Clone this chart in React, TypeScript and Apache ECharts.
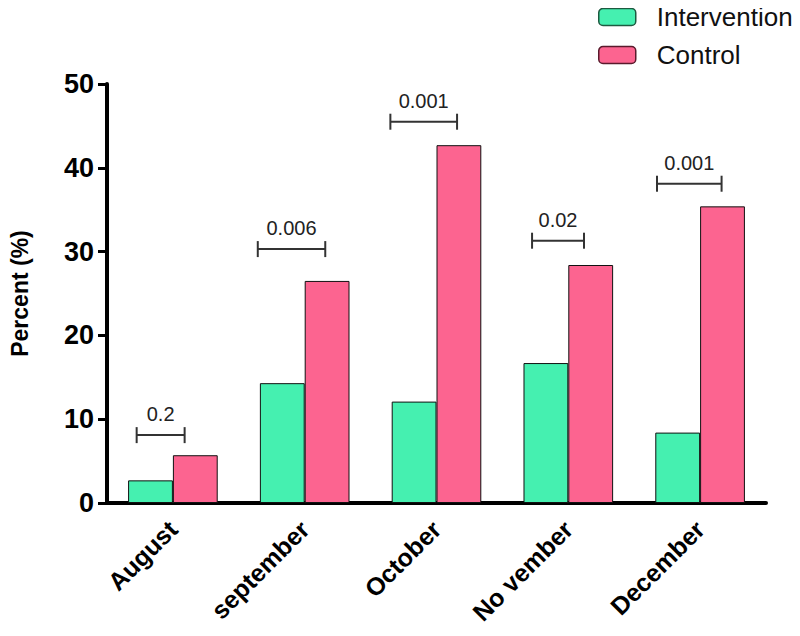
import React, { useEffect, useRef } from "react";
import * as echarts from "echarts";

const categories = ["August", "september", "October", "No vember", "December"];
const intervention = [2.7, 14.3, 12.1, 16.7, 8.4];
const control = [5.7, 26.5, 42.7, 28.4, 35.4];
const pValues = ["0.2", "0.006", "0.001", "0.02", "0.001"];
const bracketY = [8.1, 30.3, 45.5, 31.3, 38.1];
const yTicks = [0, 10, 20, 30, 40, 50];

// bracket horizontal extent, as fractions of the category band, relative to its centre
const bracketLeft = [-0.275, -0.356, -0.35, -0.275, -0.327];
const bracketRight = [0.089, 0.156, 0.156, 0.119, 0.163];

const FONT = "'Liberation Sans', Arial, sans-serif";
const GREEN = "#45F0B0";
const PINK = "#FC6490";

export default function App() {
  const ref = useRef<HTMLDivElement>(null);
  useEffect(() => {
    if (!ref.current) return;
    const chart = echarts.init(ref.current, null, { renderer: "svg" });
    const option: any = {
      animation: false,
      backgroundColor: "#ffffff",
      textStyle: { fontFamily: FONT },
      grid: { left: 90, right: 34, top: 84, bottom: 133, containLabel: false },
      legend: {
        orient: "vertical",
        left: 598,
        top: 4,
        padding: 0,
        itemWidth: 37,
        itemHeight: 17,
        itemGap: 12,
        textStyle: { fontSize: 26, lineHeight: 26, color: "#111", fontFamily: FONT, padding: [0, 0, 0, 16] },
        data: [
          { name: "Intervention", itemStyle: { borderColor: "#1d5a40", borderWidth: 1.5 } },
          { name: "Control", itemStyle: { borderColor: "#5a1a2c", borderWidth: 1.5 } },
        ],
      },
      xAxis: {
        type: "category",
        data: categories,
        axisLine: { lineStyle: { color: "#000", width: 4 } },
        axisTick: { alignWithLabel: true, length: 9, lineStyle: { color: "#000", width: 3 } },
        axisLabel: {
          rotate: 45,
          margin: 22,
          fontSize: 25,
          fontWeight: "bold",
          color: "#000",
          fontFamily: FONT,
          interval: 0,
        },
      },
      yAxis: {
        type: "value",
        min: yTicks[0],
        max: yTicks[yTicks.length - 1],
        interval: 10,
        name: "Percent (%)",
        nameLocation: "middle",
        nameGap: 76,
        nameTextStyle: { fontSize: 23, fontWeight: "bold", color: "#000", fontFamily: FONT },
        splitLine: { show: false },
        axisLine: { show: true, lineStyle: { color: "#000", width: 4 } },
        axisTick: { show: true, length: 9, lineStyle: { color: "#000", width: 3 } },
        axisLabel: { margin: 13, fontSize: 27, fontWeight: "bold", color: "#000", fontFamily: FONT },
      },
      series: [
        {
          name: "Intervention",
          type: "bar",
          data: intervention,
          barGap: "0%",
          barCategoryGap: "32%",
          itemStyle: { color: GREEN, borderColor: "#111", borderWidth: 1 },
        },
        {
          name: "Control",
          type: "bar",
          data: control,
          itemStyle: { color: PINK, borderColor: "#111", borderWidth: 1 },
        },
        {
          type: "custom",
          name: "brackets",
          silent: true,
          data: bracketY.map((y, i) => [i, y]),
          renderItem: (params: any, api: any) => {
            const i = params.dataIndex;
            const c = api.coord([api.value(0), api.value(1)]);
            const bw = api.size([1, 0])[0];
            const x1 = c[0] + bracketLeft[i] * bw;
            const x2 = c[0] + bracketRight[i] * bw;
            const y = c[1];
            const st = { stroke: "#333", lineWidth: 2 };
            return {
              type: "group",
              children: [
                { type: "line", shape: { x1, y1: y, x2, y2: y }, style: st },
                { type: "line", shape: { x1, y1: y - 8, x2: x1, y2: y + 8 }, style: st },
                { type: "line", shape: { x1: x2, y1: y - 8, x2, y2: y + 8 }, style: st },
                {
                  type: "text",
                  x: (x1 + x2) / 2,
                  y: y - 11,
                  style: {
                    text: pValues[i],
                    fontSize: 20,
                    fontFamily: FONT,
                    fill: "#222",
                    align: "center",
                    verticalAlign: "bottom",
                  },
                },
              ],
            };
          },
          z: 5,
        },
      ],
    };
    chart.setOption(option);
    return () => chart.dispose();
  }, []);
  return <div ref={ref} style={{ width: 800, height: 636, margin: -8 }} />;
}
